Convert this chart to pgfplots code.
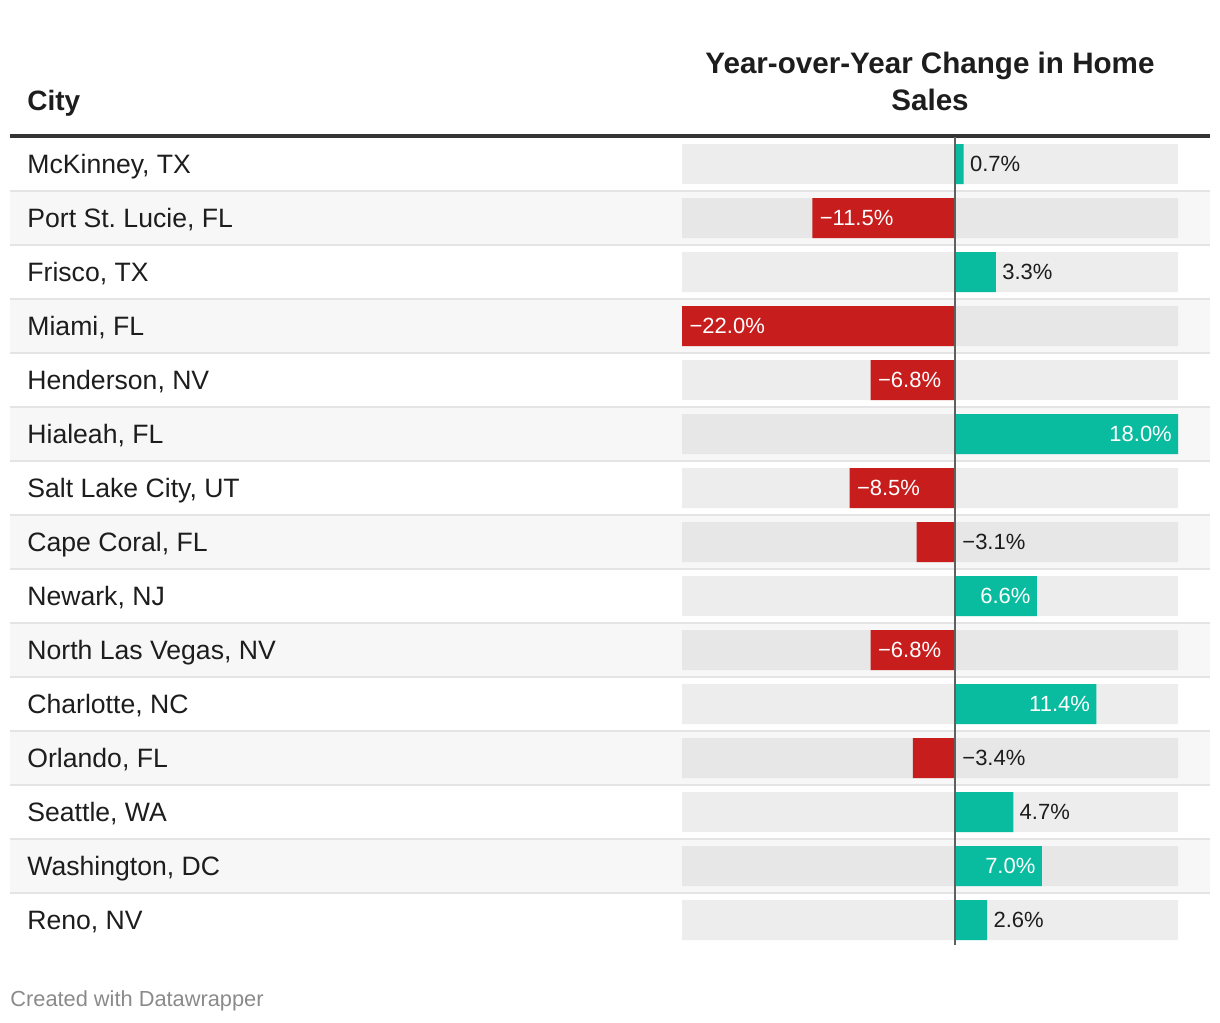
\documentclass[border=0pt]{standalone}
\usepackage{fontspec}
\setmainfont{Liberation Sans}
\usepackage{pgfplots}
\pgfplotsset{compat=1.18}
\frenchspacing

\definecolor{dwred}{HTML}{C71E1D}
\definecolor{dwteal}{HTML}{09BB9F}
\definecolor{txt}{HTML}{1D1D1D}
\definecolor{rowbg}{HTML}{F7F7F7}
\definecolor{bgodd}{HTML}{EDEDED}
\definecolor{bgeven}{HTML}{E7E7E7}
\definecolor{sepline}{HTML}{E4E4E4}
\definecolor{zeroline}{HTML}{606060}
\definecolor{rule}{HTML}{333333}
\definecolor{foot}{HTML}{8A8A8A}

\begin{document}
\begin{tikzpicture}
\begin{axis}[
  width=610pt, height=511pt, scale only axis,
  xmin=-77.016, xmax=21.371,
  ymin=-2.037, ymax=16.889, y dir=reverse,
  axis on top,
  axis line style={draw=none},
  tick style={draw=none},
  major tick length=0pt,
  xtick=\empty,
  ytick={1,...,15},
  yticklabels={{McKinney, TX},{Port St.\ Lucie, FL},{Frisco, TX},{Miami, FL},
    {Henderson, NV},{Hialeah, FL},{Salt Lake City, UT},{Cape Coral, FL},
    {Newark, NJ},{North Las Vegas, NV},{Charlotte, NC},{Orlando, FL},
    {Seattle, WA},{Washington, DC},{Reno, NV}},
  yticklabel style={anchor=base west, inner sep=0pt, xshift=13.5pt, yshift=-4.8pt,
    text=txt, font=\fontsize{13.3}{16}\selectfont},
  clip=false,
]
% striped rows
\pgfplotsinvokeforeach{2,4,...,14}{
  \fill[rowbg] (axis cs:-76.21,#1) ++(0pt,13.5pt) rectangle ++(600pt,-27pt);
}
\pgfplotsinvokeforeach{1.5,2.5,...,14.5}{
  \draw[sepline, line width=0.8pt] (axis cs:-76.21,#1) -- (axis cs:20.56,#1);
}
\draw[rule, line width=1.75pt] (axis cs:-76.21,0.4815) -- (axis cs:20.56,0.4815);

% bar backgrounds (full range -22 .. 18)
\addplot[xbar, bar width=20pt, bar shift=0pt, draw=none, fill=bgodd] coordinates {
  (-22,1) (-22,3) (-22,5) (-22,7) (-22,9) (-22,11) (-22,13) (-22,15)
  (18,1) (18,3) (18,5) (18,7) (18,9) (18,11) (18,13) (18,15)};
\addplot[xbar, bar width=20pt, bar shift=0pt, draw=none, fill=bgeven] coordinates {
  (-22,2) (-22,4) (-22,6) (-22,8) (-22,10) (-22,12) (-22,14)
  (18,2) (18,4) (18,6) (18,8) (18,10) (18,12) (18,14)};

% values
\addplot[xbar, bar width=20pt, bar shift=0pt, draw=none, fill=dwteal] coordinates {
  (0.7,1) (3.3,3) (18.0,6) (6.6,9) (11.4,11) (4.7,13) (7.0,14) (2.6,15)};
\addplot[xbar, bar width=20pt, bar shift=0pt, draw=none, fill=dwred] coordinates {
  (-11.5,2) (-22.0,4) (-6.8,5) (-8.5,7) (-3.1,8) (-6.8,10) (-3.4,12)};

\draw[zeroline, line width=0.8pt] (axis cs:0,0.5) -- (axis cs:0,15.46);

% labels
\addplot[draw=none, mark=none, nodes near coords, point meta=explicit symbolic,
  every node near coord/.append style={anchor=base west, xshift=3pt, yshift=-3.9pt,
    inner sep=0pt, text=txt, font=\fontsize{11}{13}\selectfont}] coordinates {
  (0.7,1) [0.7\%] (3.3,3) [3.3\%] (4.7,13) [4.7\%] (2.6,15) [2.6\%]};
\addplot[draw=none, mark=none, nodes near coords, point meta=explicit symbolic,
  every node near coord/.append style={anchor=base east, xshift=-3pt, yshift=-3.9pt,
    inner sep=0pt, text=white, font=\fontsize{11}{13}\selectfont}] coordinates {
  (18.0,6) [18.0\%] (6.6,9) [6.6\%] (11.4,11) [11.4\%] (7.0,14) [7.0\%]};
\addplot[draw=none, mark=none, nodes near coords, point meta=explicit symbolic,
  every node near coord/.append style={anchor=base west, xshift=3.5pt, yshift=-3.9pt,
    inner sep=0pt, text=white, font=\fontsize{11}{13}\selectfont}] coordinates {
  (-11.5,2) [−11.5\%] (-22.0,4) [−22.0\%] (-6.8,5) [−6.8\%] (-8.5,7) [−8.5\%]
  (-6.8,10) [−6.8\%]};
\addplot[draw=none, mark=none, nodes near coords, point meta=explicit symbolic,
  every node near coord/.append style={anchor=base west, xshift=3.5pt, yshift=-3.9pt,
    inner sep=0pt, text=txt, font=\fontsize{11}{13}\selectfont}] coordinates {
  (0,8) [−3.1\%] (0,12) [−3.4\%]};

% header and footer
\node[anchor=base west, inner sep=0pt, text=txt, font=\bfseries\fontsize{14}{16}\selectfont]
  at (axis cs:-74.84,0) {City};
\node[anchor=base, inner sep=0pt, text=txt, font=\bfseries\fontsize{14.8}{16}\selectfont]
  at (axis cs:-2.016,-0.685) {Year-over-Year Change in Home};
\node[anchor=base, inner sep=0pt, text=txt, font=\bfseries\fontsize{14.8}{16}\selectfont]
  at (axis cs:-2.016,0) {Sales};
\node[anchor=base west, inner sep=0pt, text=foot, font=\fontsize{10.9}{13}\selectfont]
  at (axis cs:-76.21,16.593) {Created with Datawrapper};
\end{axis}
\pgfresetboundingbox
\path (current axis.south west) rectangle (current axis.north east);
\end{tikzpicture}
\end{document}
